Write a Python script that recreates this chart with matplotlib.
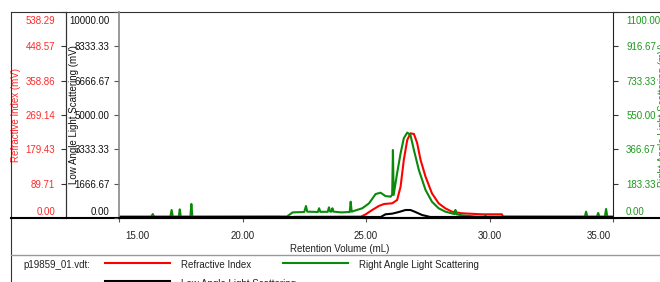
import matplotlib
matplotlib.use("Agg")
import matplotlib.pyplot as plt
from matplotlib.lines import Line2D
from matplotlib.transforms import ScaledTranslation

plt.rcParams["font.family"] = ["Liberation Sans", "DejaVu Sans"]
plt.rcParams["font.size"] = 7

# --- data ---
# refractive index (mV)
ri_vol = [15.0, 21.5, 21.6, 22.0, 22.1, 24.8, 24.99, 25.25, 25.52, 25.73, 26.06, 26.26, 26.40, 26.53,
          26.67, 26.80, 26.94, 27.07, 27.21, 27.41, 27.67, 27.94, 28.21, 28.48, 28.88, 29.69, 30.50, 30.55, 35.0]
ri_mv = [3, 3, -1, -1, 3, 3.5, 9.7, 20.9, 31.4, 36.6, 38.4, 47, 81.8, 151.6,
         203.8, 221.3, 219.5, 196, 151.6, 108, 64.5, 38.4, 25.3, 16.5, 12.3, 9.7, 9.7, 3.4, 3]

# right angle light scattering (mV)
rals_vol = [15.0, 16.3, 16.37, 16.42,
            17.08, 17.13, 17.18,
            17.42, 17.46, 17.50,
            17.89, 17.93, 17.97,
            21.8, 22.03, 22.5, 22.57, 22.62,
            23.05, 23.1, 23.15, 23.45, 23.5, 23.55, 23.6, 23.64, 23.68,
            24.0, 24.34, 24.38, 24.42,
            24.85, 25.12, 25.39, 25.59, 25.79, 26.0, 26.06, 26.09, 26.12,
            26.26, 26.40, 26.53, 26.67, 26.80, 26.94, 27.14, 27.41, 27.67, 27.94, 28.21,
            28.58, 28.62, 28.66, 28.9, 29.5,
            29.8, 29.83, 29.86,
            33.86, 33.91, 33.96, 34.35, 34.4, 34.45, 34.67, 34.72, 34.77, 35.0]
rals_mv = [7, 7, 21, 7,
           7, 43, 7,
           7, 46, 7,
           7, 75, 7,
           8, 30, 32, 64, 34,
           32, 52, 33, 33, 57, 34, 34, 52, 34,
           30, 32, 87, 34,
           52, 78, 128, 135, 117, 114, 125, 363, 123,
           239, 345, 426, 456, 443, 363, 256, 150, 87, 52, 34,
           21, 43, 20, 14, 7,
           7, 16, 7,
           7, 34, 7, 7, 27, 7, 7, 48, 7, 7]

# low angle light scattering (mV)
lals_vol = [15.0, 25.6, 25.79, 26.06, 26.33, 26.60, 26.80, 27.00, 27.27, 27.6, 35.0]
lals_mv = [50, 50, 180, 210, 291, 388, 388, 291, 146, 50, 50]

x_ticks = [15, 20, 25, 30, 35]
lals_ticks = [0, 1666.67, 3333.33, 5000, 6666.67, 8333.33, 10000]
ri_ticks = [0, 89.71, 179.43, 269.14, 358.86, 448.57, 538.29]
rals_ticks = [0, 183.33, 366.67, 550, 733.33, 916.67, 1100]

file_name = "p19859_01.vdt:"
names = ["Refractive Index", "Right Angle Light Scattering", "Low Angle Light Scattering"]

RED = "#ff0000"
RED_TXT = "#ff2a2a"
GREEN = "#0a8a0a"
GREEN_TXT = "#1a9a1a"

W, H = 660, 282
fig = plt.figure(figsize=(W / 100, H / 100), dpi=100)


def fx(px):
    return px / W


def fy(py):
    return 1 - py / H


def nudge(label, dx, dy):
    # shift a tick label by pixels
    label.set_transform(label.get_transform() + ScaledTranslation(dx / 100, dy / 100, fig.dpi_scale_trans))


ax = fig.add_axes([fx(119), fy(218), (613 - 119) / W, (218 - 12) / H])
ax_ri = ax.twinx()
ax_rals = ax.twinx()
ax.set_zorder(3)
ax.patch.set_visible(False)

ax_ri.plot(ri_vol, ri_mv, color=RED, lw=1.5)
ax_rals.plot(rals_vol, rals_mv, color=GREEN, lw=1.5)
ax.plot(lals_vol, lals_mv, color="black", lw=1.5)

ax.set_xlim(15, 35)
ax.set_ylim(0, 10000)
ax_ri.set_ylim(0, 538.29)
ax_rals.set_ylim(0, 1100)

ax.set_xticks(x_ticks)
ax.set_xticklabels([f"{v:.2f}" for v in x_ticks])
ax.set_yticks(lals_ticks)
ax.set_yticklabels([f"{v:.2f}" for v in lals_ticks])
ax_ri.set_yticks(ri_ticks)
ax_ri.set_yticklabels([f"{v:.2f}" for v in ri_ticks])
ax_rals.set_yticks(rals_ticks)
ax_rals.set_yticklabels([f"{v:.2f}" for v in rals_ticks])

ax.tick_params(axis="x", direction="out", length=3, width=0.8, color="#555", pad=6.5, labelcolor="#222")
ax.tick_params(axis="y", direction="out", length=3.6, width=0.8, color="#555", pad=3, labelcolor="#111")

ax_ri.yaxis.set_ticks_position("left")
ax_ri.yaxis.set_label_position("left")
ax_ri.spines["left"].set_position(("axes", (66 - 119) / 494))
ax_ri.tick_params(axis="y", direction="out", length=3.6, width=0.8, color="#333", pad=4.3, labelcolor=RED_TXT)
ax_rals.tick_params(axis="y", direction="out", length=3.6, width=0.8, color="#333", pad=5.8, labelcolor=GREEN_TXT)

for s in ["top", "right"]:
    ax.spines[s].set_visible(False)
ax.spines["left"].set_color("#888")
ax.spines["left"].set_linewidth(1.2)
ax.spines["bottom"].set_color("black")
ax.spines["bottom"].set_linewidth(1.5)
for s in ["top", "right", "bottom"]:
    ax_ri.spines[s].set_visible(False)
ax_ri.spines["left"].set_color("#333")
for s in ["top", "left", "bottom"]:
    ax_rals.spines[s].set_visible(False)
ax_rals.spines["right"].set_color("#222")

# end labels sit inside the frame
xl = ax.get_xticklabels()
nudge(xl[0], 18, 0)
nudge(xl[-1], -14, 0)
for a in [ax, ax_ri, ax_rals]:
    yl = a.get_yticklabels()
    nudge(yl[0], 0, 7)
    nudge(yl[-1], 0, -8)

ax.set_ylabel("Low Angle Light Scattering (mV)", color="#111")
ax.yaxis.set_label_coords((79 - 119) / 494, 0.5)
ax_ri.set_ylabel("Refractive Index (mV)", color=RED_TXT)
ax_ri.yaxis.set_label_coords((21 - 119) / 494, 0.5)
ax_rals.set_ylabel("Right Angle Light Scattering (mV)", color=GREEN_TXT)
ax_rals.yaxis.set_label_coords((658 - 119) / 494, 0.5)
ax.set_xlabel("Retention Volume (mL)", color="#222")
ax.xaxis.set_label_coords((340 - 119) / 494, (218 - 244) / 206)


def fline(x0, x1, y0, y1, **kw):
    fig.add_artist(Line2D([fx(x0), fx(x1)], [fy(y0), fy(y1)], transform=fig.transFigure, **kw))


# frame
fline(11, 660, 12, 12, color="#333", lw=0.8)
fline(11, 11, 12, 282, color="#333", lw=0.8)
fline(66, 66, 12, 218, color="#333", lw=0.8)
fline(11, 660, 218, 218, color="black", lw=1.5)
fline(11, 660, 255, 255, color="#999", lw=1.0)

# legend
fig.text(fx(23), fy(265), file_name, va="center", color="#222")
fline(105, 170, 262.5, 262.5, color=RED, lw=1.5)
fig.text(fx(181), fy(265), names[0], va="center", color="#222")
fline(283, 348, 262.5, 262.5, color=GREEN, lw=1.5)
fig.text(fx(359), fy(265), names[1], va="center", color="#222")
fline(105, 170, 280.5, 280.5, color="black", lw=1.5)
fig.text(fx(181), fy(284), names[2], va="center", color="#222")

fig.savefig("out.png", dpi=100)
